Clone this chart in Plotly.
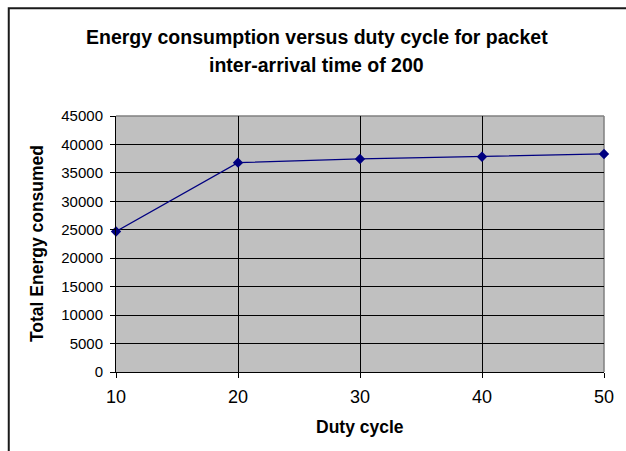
import plotly.graph_objects as go

duty_cycle = [10, 20, 30, 40, 50]
energy = [24700, 36800, 37450, 37850, 38330]
y_ticks = [0, 5000, 10000, 15000, 20000, 25000, 30000, 35000, 40000, 45000]
y_tick_labels = ["0", "5000", "10000", "15000", "20000", "25000", "30000", "35000", "40000", "45000"]
x_ticks = [10, 20, 30, 40, 50]
x_tick_labels = ["10", "20", "30", "40", "50"]

title_lines = ["Energy consumption versus duty cycle for packet", "inter-arrival time of 200"]
x_title = "Duty cycle"
y_title = "Total Energy consumed"

W, H = 626, 451
L, R, T, B = 116, 14, 116, 78.5
pw, ph = W - L - R, H - T - B

def px(xp):
    return (xp - L) / pw

def py(yp):
    return (H - B - yp) / ph

fig = go.Figure()
fig.add_trace(go.Scatter(
    x=duty_cycle, y=energy, mode="lines+markers",
    line=dict(color="#000080", width=1.2),
    marker=dict(symbol="diamond", size=8, color="#000080"),
    cliponaxis=False, showlegend=False,
))

font = "Liberation Sans, Arial, sans-serif"
fig.update_layout(
    width=W, height=H,
    margin=dict(l=L, r=R, t=T, b=B, pad=0),
    paper_bgcolor="white", plot_bgcolor="#C0C0C0",
    font=dict(family=font, color="black"),
    xaxis=dict(range=[10, 50], tickvals=x_ticks, ticktext=x_tick_labels,
               showgrid=True, gridcolor="black", gridwidth=1,
               showline=True, linecolor="black", linewidth=1,
               ticks="outside", ticklen=5, tickcolor="black", zeroline=False,
               tickfont=dict(size=18, family=font), ticklabelstandoff=3),
    yaxis=dict(range=[0, 45000], tickvals=y_ticks, ticktext=y_tick_labels,
               showgrid=True, gridcolor="black", gridwidth=1,
               showline=True, linecolor="black", linewidth=1,
               ticks="outside", ticklen=5, tickcolor="black", zeroline=False,
               tickfont=dict(size=15, family=font), ticklabelstandoff=4),
    shapes=[
        dict(type="line", xref="paper", yref="paper", x0=0, x1=1, y0=1, y1=1,
             line=dict(color="#808080", width=1.5), layer="between"),
        dict(type="line", xref="paper", yref="paper", x0=1, x1=1, y0=0, y1=1,
             line=dict(color="#808080", width=1.5), layer="between"),
        dict(type="rect", xref="paper", yref="paper", x0=px(7), x1=px(660),
             y0=py(480), y1=py(8), line=dict(color="#1a1a1a", width=2),
             fillcolor="rgba(0,0,0,0)", layer="above"),
    ],
    annotations=[
        dict(text="<b>" + title_lines[0] + "</b>", xref="paper", yref="paper",
             x=px(320), y=py(37), xanchor="center", yanchor="middle", showarrow=False,
             font=dict(size=19.5, family=font, color="black")),
        dict(text="<b>" + title_lines[1] + "</b>", xref="paper", yref="paper",
             x=px(320), y=py(65), xanchor="center", yanchor="middle", showarrow=False,
             font=dict(size=19.5, family=font, color="black")),
        dict(text="<b>" + x_title + "</b>", xref="paper", yref="paper", x=px(364),
             y=py(428), xanchor="center", yanchor="middle", showarrow=False,
             font=dict(size=17.5, family=font)),
        dict(text="<b>" + y_title + "</b>", xref="paper", yref="paper", x=px(35),
             y=py(244), xanchor="center", yanchor="middle", showarrow=False,
             textangle=-90, font=dict(size=17.5, family=font)),
    ],
)

fig.write_html(
    "out.html",
    config={"displayModeBar": False},
    post_script="document.body.style.margin='0';document.body.style.overflow='hidden';",
)
